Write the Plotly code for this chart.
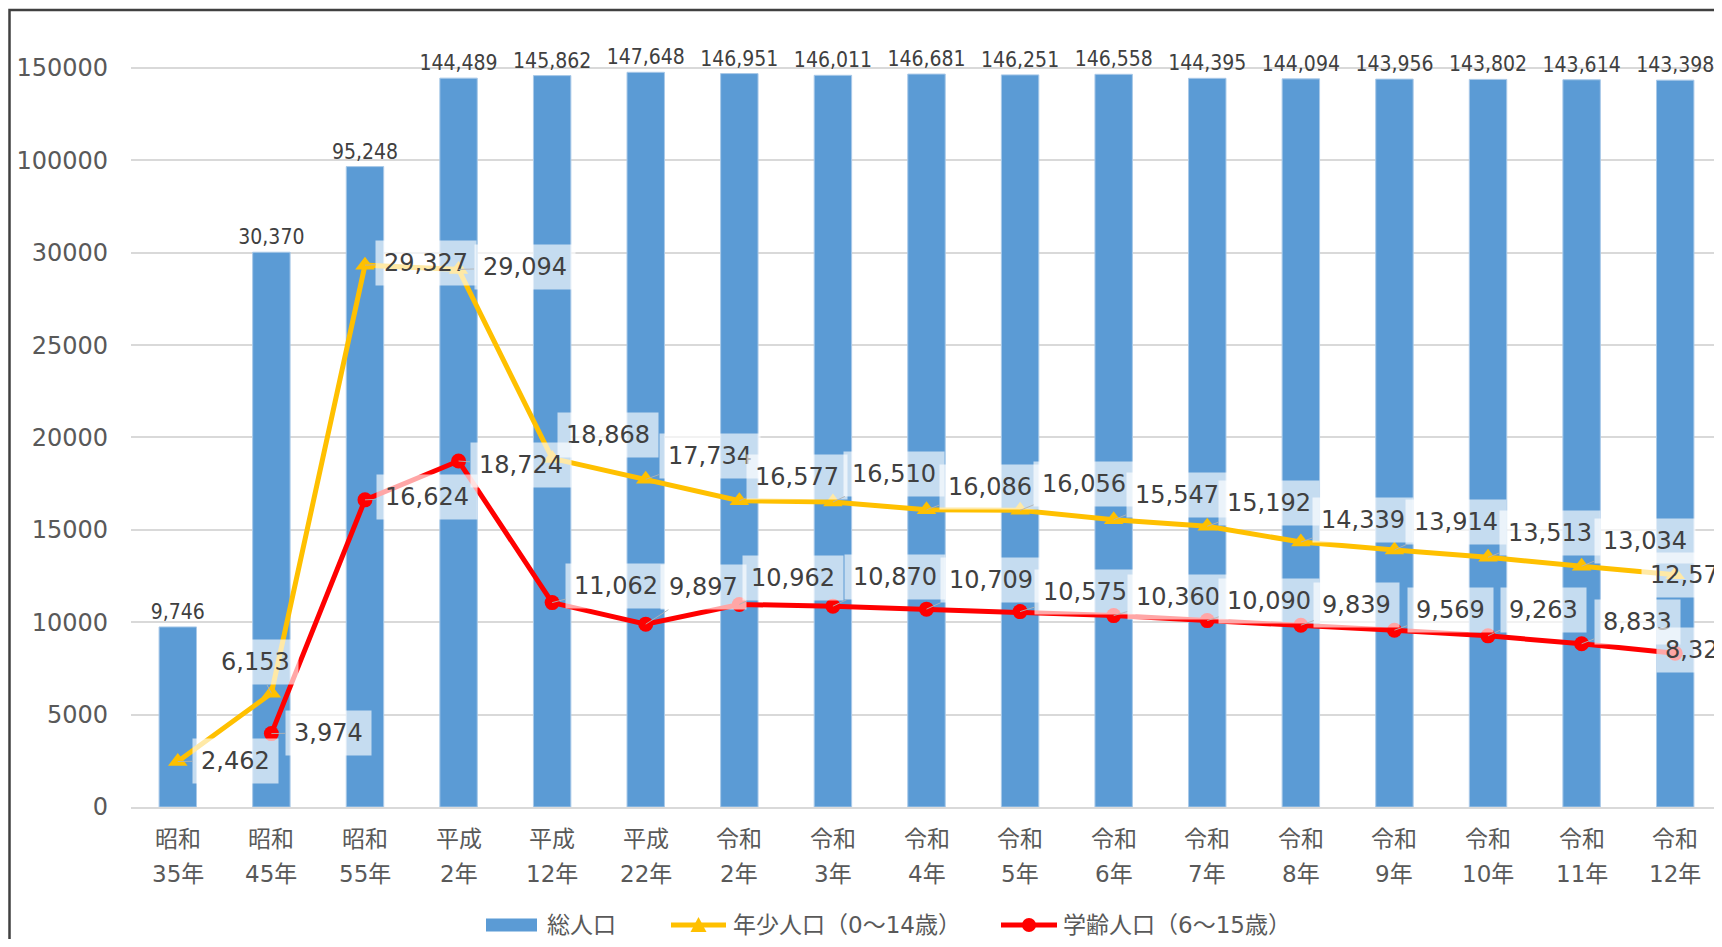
import numpy as np
import plotly.graph_objects as go

# ---------------- data ----------------
era_labels = ["昭和", "昭和", "昭和", "平成", "平成", "平成", "令和", "令和", "令和",
              "令和", "令和", "令和", "令和", "令和", "令和", "令和", "令和"]
year_labels = ["35年", "45年", "55年", "2年", "12年", "22年", "2年", "3年", "4年",
               "5年", "6年", "7年", "8年", "9年", "10年", "11年", "12年"]
total_population = [9746, 30370, 95248, 144489, 145862, 147648, 146951, 146011, 146681,
                    146251, 146558, 144395, 144094, 143956, 143802, 143614, 143398]
youth_population = [2462, 6153, 29327, 29094, 18868, 17734, 16577, 16510, 16086,
                    16056, 15547, 15192, 14339, 13914, 13513, 13034, 12572]
school_age_population = [None, 3974, 16624, 18724, 11062, 9897, 10962, 10870, 10709,
                         10575, 10360, 10090, 9839, 9569, 9263, 8833, 8323]
y_tick_labels = ["0", "5000", "10000", "15000", "20000", "25000", "30000", "100000", "150000"]
series_names = ["総人口", "年少人口（0～14歳）", "学齢人口（6～15歳）"]

# broken value axis: 0-30000 linear, then 30000-100000 and 100000-150000 squeezed into one step each
break_real = [0, 30000, 100000, 150000]
break_axis = [0, 30000, 35000, 40000]


def to_axis(v):
    return float(np.interp(v, break_real, break_axis))


y_tick_positions = [to_axis(float(t)) for t in y_tick_labels]

# label offsets (pixels) for line data labels
youth_offsets = [(58, -1), (-16, -31), (61, -2), (66, -2), (56, -23), (64, -23), (58, -24),
                 (61, -28), (63, -23), (64, -26), (63, -25), (62, -23), (62, -22), (62, -28),
                 (62, -24), (63, -25), (17, 0)]
school_offsets = [None, (57, -1), (62, -3), (62, 4), (64, -17), (58, -37), (54, -26),
                  (62, -29), (64, -29), (65, -20), (64, -19), (62, -20), (56, -20), (56, -20),
                  (55, -26), (56, -22), (24, -3)]

# ---------------- styling ----------------
BLUE = "#5B9BD5"
YELLOW = "#FFC000"
RED = "#FF0000"
GRID = "#D9D9D9"
TEXT = "#595959"
FONT = "DejaVu Sans, Noto Sans CJK JP, sans-serif"
CJK = "Noto Sans CJK JP, DejaVu Sans, sans-serif"

W, H = 1714, 931          # page has an 8px body margin
ML, MR, MT, MB = 123, 0, 23, 132
plot_w = W - ML - MR
plot_h = H - MT - MB
plot_bottom = H - MB


def px(xf):
    return (xf - ML) / plot_w


def py(yf):
    return (plot_bottom - yf) / plot_h


cats = [e + y for e, y in zip(era_labels, year_labels)]

fig = go.Figure()

fig.add_trace(go.Bar(
    x=cats,
    y=[to_axis(v) for v in total_population],
    name=series_names[0],
    marker=dict(color=BLUE, line=dict(color="#A9C9E8", width=1)),
    width=0.4,
    text=[f"{v:,}" for v in total_population],
    textposition="outside",
    constraintext="none",
    textfont=dict(family="Liberation Sans Narrow, DejaVu Sans Condensed, Roboto, sans-serif",
                  size=21, color="#404040"),
    cliponaxis=False,
    hoverinfo="skip",
    showlegend=False,
))

fig.add_trace(go.Scatter(
    x=cats, y=youth_population, name=series_names[1], mode="lines+markers",
    line=dict(color=YELLOW, width=5),
    marker=dict(symbol="triangle-up", size=17, color=YELLOW),
    cliponaxis=False, showlegend=False,
))

fig.add_trace(go.Scatter(
    x=cats, y=school_age_population, name=series_names[2], mode="lines+markers",
    line=dict(color=RED, width=5),
    marker=dict(symbol="circle", size=15, color=RED),
    cliponaxis=False, showlegend=False,
))

annotations = []
for series, offsets in ((youth_population, youth_offsets), (school_age_population, school_offsets)):
    for c, v, off in zip(cats, series, offsets):
        if v is None:
            continue
        annotations.append(dict(
            x=c, y=v, xref="x", yref="y",
            text=f"{v:,}",
            showarrow=True, arrowhead=0, arrowwidth=1, arrowcolor="rgba(180,180,180,0.9)",
            ax=off[0], ay=off[1], standoff=0,
            font=dict(family=FONT, size=24, color="#404040"),
            bgcolor="rgba(255,255,255,0.65)", borderpad=8,
        ))

# two-line category labels
for c, e, yv in zip(cats, era_labels, year_labels):
    annotations.append(dict(x=c, y=0, xref="x", yref="paper", text=e, showarrow=False,
                            yanchor="middle", yshift=-30,
                            font=dict(family=CJK, size=23, color=TEXT)))
    annotations.append(dict(x=c, y=0, xref="x", yref="paper", text=yv, showarrow=False,
                            yanchor="middle", yshift=-67,
                            font=dict(family=FONT, size=23, color=TEXT)))

# legend drawn by hand (figure pixel positions)
LEG_Y = 917
shapes = [dict(type="rect", xref="paper", yref="paper",
               x0=px(1.5), x1=1.2, y0=-0.5, y1=py(2),
               line=dict(color="#404040", width=2.5), fillcolor="rgba(0,0,0,0)",
               layer="above")]
shapes.append(dict(type="rect", xref="paper", yref="paper",
                   x0=px(478), x1=px(529), y0=py(LEG_Y + 6.5), y1=py(LEG_Y - 6.5),
                   line=dict(width=0), fillcolor=BLUE))
shapes.append(dict(type="line", xref="paper", yref="paper",
                   x0=px(663), x1=px(718), y0=py(LEG_Y), y1=py(LEG_Y),
                   line=dict(color=YELLOW, width=5)))
tx, ty = 690.5, LEG_Y
shapes.append(dict(type="path", xref="paper", yref="paper",
                   path=f"M{px(tx - 8)},{py(ty + 7)} L{px(tx + 8)},{py(ty + 7)} L{px(tx)},{py(ty - 8)} Z",
                   line=dict(width=0), fillcolor=YELLOW))
shapes.append(dict(type="line", xref="paper", yref="paper",
                   x0=px(993), x1=px(1049), y0=py(LEG_Y), y1=py(LEG_Y),
                   line=dict(color=RED, width=5)))
cx = 1021
shapes.append(dict(type="circle", xref="paper", yref="paper",
                   x0=px(cx - 7), x1=px(cx + 7), y0=py(LEG_Y + 7), y1=py(LEG_Y - 7),
                   line=dict(width=0), fillcolor=RED))
for name, x_start in zip(series_names, [537, 723, 1053]):
    annotations.append(dict(x=px(x_start), y=py(LEG_Y), xref="paper", yref="paper",
                            text=name, showarrow=False, xanchor="left", yanchor="middle",
                            font=dict(family=FONT, size=23, color=TEXT)))

fig.update_layout(
    width=W, height=H,
    margin=dict(l=ML, r=MR, t=MT, b=MB, pad=0),
    paper_bgcolor="white", plot_bgcolor="white",
    showlegend=False,
    annotations=annotations,
    shapes=shapes,
    xaxis=dict(showticklabels=False, showgrid=False, showline=True, linecolor=GRID,
               linewidth=2, ticks="", range=[-0.5, 16.5], fixedrange=True),
    yaxis=dict(range=[0, 42000], tickmode="array", tickvals=y_tick_positions,
               ticktext=y_tick_labels, showgrid=True, gridcolor=GRID, gridwidth=2,
               zeroline=False, showline=False, ticks="", ticklabelstandoff=22,
               tickfont=dict(family=FONT, size=24, color=TEXT)),
)

fig.write_html("out.html")
